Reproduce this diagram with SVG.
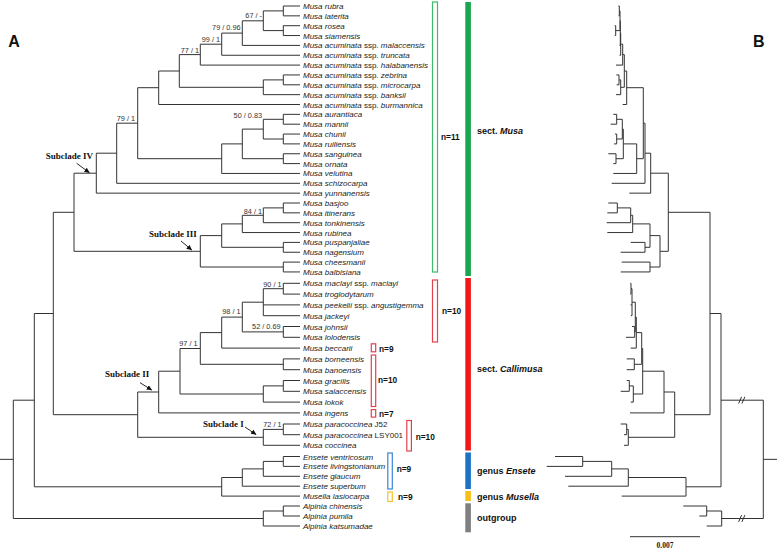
<svg xmlns="http://www.w3.org/2000/svg" width="777" height="552" viewBox="0 0 777 552">
<defs>
<style>
.br{fill:none;stroke:#333;stroke-width:1}
.tx{font-family:"Liberation Sans",Arial,sans-serif;font-size:8px;font-style:italic;fill:#222}
.up{font-style:normal}
.sv{font-family:"Liberation Sans",Arial,sans-serif;font-size:7.3px;fill:#333;text-anchor:end}
.sc{font-family:"Liberation Serif","Times New Roman",serif;font-size:9px;font-weight:bold;fill:#111}
.nn{font-family:"Liberation Sans",Arial,sans-serif;font-size:8.3px;font-weight:bold;fill:#111}
.sl{font-family:"Liberation Sans",Arial,sans-serif;font-size:9px;font-weight:bold;fill:#111}
.pl{font-family:"Liberation Sans",Arial,sans-serif;font-size:16px;font-weight:bold;fill:#111}
.arr{stroke:#111;stroke-width:0.9;fill:none}
</style>
<marker id="ah" markerUnits="userSpaceOnUse" markerWidth="6" markerHeight="6" refX="5" refY="3" orient="auto"><path d="M0,0.5 L5.5,3 L0,5.5 z" fill="#111"/></marker>
</defs>
<rect width="777" height="552" fill="#fff"/>

<g id="connectors">
<path class="br" d="M283.3 6V15.85M300 6H283.3M300 15.85H283.3M283.3 25.7V35.55M300 25.7H283.3M300 35.55H283.3M263.3 10.9V30.6M283.3 10.9H263.3M283.3 30.6H263.3M242.3 20.8V45.4M263.3 20.8H242.3M300 45.4H242.3M221.7 33.1V55.25M242.3 33.1H221.7M300 55.25H221.7M200.3 44.2V65.1M221.7 44.2H200.3M300 65.1H200.3M283.3 74.95V84.8M300 74.95H283.3M300 84.8H283.3M263.3 79.9V94.65M283.3 79.9H263.3M300 94.65H263.3M179.3 54.6V87.3M200.3 54.6H179.3M263.3 87.3H179.3M158.7 71V104.5M179.3 71H158.7M300 104.5H158.7M283.3 114.35V124.2M300 114.35H283.3M300 124.2H283.3M283.3 134.05V143.9M300 134.05H283.3M300 143.9H283.3M263.3 119.3V139M283.3 119.3H263.3M283.3 139H263.3M283.3 153.75V163.6M300 153.75H283.3M300 163.6H283.3M242.3 129.1V158.7M263.3 129.1H242.3M283.3 158.7H242.3M221.7 143.9V173.45M242.3 143.9H221.7M300 173.45H221.7M137.7 87.7V158.7M158.7 87.7H137.7M221.7 158.7H137.7M116.7 123.2V183.3M137.7 123.2H116.7M300 183.3H116.7M96.3 153.2V193.15M116.7 153.2H96.3M300 193.15H96.3M283.3 203V212.85M300 203H283.3M300 212.85H283.3M263.3 207.9V222.7M283.3 207.9H263.3M300 222.7H263.3M242.3 215.3V232.55M263.3 215.3H242.3M300 232.55H242.3M283.3 242.4V252.25M300 242.4H283.3M300 252.25H283.3M221.7 223.9V247.3M242.3 223.9H221.7M283.3 247.3H221.7M283.3 262.1V271.95M300 262.1H283.3M300 271.95H283.3M200.3 235.6V267M221.7 235.6H200.3M283.3 267H200.3M74 173.2V251.3M96.3 173.2H74M200.3 251.3H74"/>
<path class="br" d="M283.3 283.3V294.1M300 283.3H283.3M300 294.1H283.3M263.3 288.7V315.7M283.3 288.7H263.3M300 304.9H263.3M300 315.7H263.3M283.3 326.5V337.3M300 326.5H283.3M300 337.3H283.3M242.3 302.2V331.9M263.3 302.2H242.3M283.3 331.9H242.3M221.7 317.1V348.1M242.3 317.1H221.7M300 348.1H221.7M283.3 358.9V369.7M300 358.9H283.3M300 369.7H283.3M200.3 332.6V364.3M221.7 332.6H200.3M283.3 364.3H200.3M283.3 380.5V391.3M300 380.5H283.3M300 391.3H283.3M263.3 385.9V402.1M283.3 385.9H263.3M300 402.1H263.3M180 348.5V394M200.3 348.5H180M263.3 394H180M158.7 371.2V412.9M180 371.2H158.7M300 412.9H158.7M283.3 424V434.7M300 424H283.3M300 434.7H283.3M263.3 429.4V445.3M283.3 429.4H263.3M300 445.3H263.3M137.7 392V437.3M158.7 392H137.7M263.3 437.3H137.7M53.3 212.3V414.7M74 212.3H53.3M137.7 414.7H53.3M283.3 456.5V466.4M300 456.5H283.3M300 466.4H283.3M263.3 461.4V476.3M283.3 461.4H263.3M300 476.3H263.3M242.3 468.9V486.2M263.3 468.9H242.3M300 486.2H242.3M221.7 477.5V496.1M242.3 477.5H221.7M300 496.1H221.7M34.3 313.5V486.8M53.3 313.5H34.3M221.7 486.8H34.3M283.3 506V516M300 506H283.3M300 516H283.3M263.3 511V526M283.3 511H263.3M300 526H263.3M13.3 400.2V518.5M34.3 400.2H13.3M263.3 518.5H13.3M0 459.35H13.3"/>
<path class="br" d="M619.3 6V15.85M618.3 6H619.3M618.6 15.85H619.3M615.7 25.7V35.55M614.7 25.7H615.7M614.7 35.55H615.7M620 10.9V30.6M619.3 10.9H620M615.7 30.6H620M620.3 20.8V45.4M620 20.8H620.3M619.5 45.4H620.3M620.7 33.1V55.25M620.3 33.1H620.7M619.5 55.25H620.7M622.7 44.2V65.1M620.7 44.2H622.7M616 65.1H622.7M619 74.95V84.8M616.3 74.95H619M616.7 84.8H619M620.7 79.9V94.65M619 79.9H620.7M616 94.65H620.7M624.3 54.6V87.3M622.7 54.6H624.3M620.7 87.3H624.3M626.7 71V104.5M624.3 71H626.7M622.7 104.5H626.7M616.7 114.35V124.2M613.3 114.35H616.7M610.7 124.2H616.7M616.7 134.05V143.9M615 134.05H616.7M614 143.9H616.7M622.3 119.3V139M616.7 119.3H622.3M616.7 139H622.3M616 153.75V163.6M608.3 153.75H616M613.3 163.6H616M623.3 129.1V158.7M622.3 129.1H623.3M616 158.7H623.3M636.7 143.9V173.45M623.3 143.9H636.7M613.3 173.45H636.7M643.3 87.7V158.7M626.7 87.7H643.3M636.7 158.7H643.3M645 123.2V183.3M643.3 123.2H645M611.7 183.3H645M650.7 153.2V193.15M645 153.2H650.7M629.3 193.15H650.7M617.3 203V212.85M608.3 203H617.3M607.3 212.85H617.3M630.7 207.9V222.7M617.3 207.9H630.7M606.7 222.7H630.7M632.7 215.3V232.55M630.7 215.3H632.7M607.3 232.55H632.7M645 242.4V252.25M630.7 242.4H645M620.7 252.25H645M650 223.9V247.3M632.7 223.9H650M645 247.3H650M650 262.1V271.95M621.7 262.1H650M620.7 271.95H650M660 235.6V267M650 235.6H660M650 267H660M668.3 173.2V251.3M650.7 173.2H668.3M660 251.3H668.3"/>
<path class="br" d="M631 283.3V294.1M630.3 283.3H631M630.3 294.1H631M632 288.7V315.7M631 288.7H632M630.5 304.9H632M630.8 315.7H632M634.7 326.5V337.3M632 326.5H634.7M626 337.3H634.7M635.3 302.2V331.9M632 302.2H635.3M634.7 331.9H635.3M636.3 317.1V348.1M635.3 317.1H636.3M630.7 348.1H636.3M634.3 358.9V369.7M626.7 358.9H634.3M626.7 369.7H634.3M641.7 332.6V364.3M636.3 332.6H641.7M634.3 364.3H641.7M629.3 380.5V391.3M626.7 380.5H629.3M620.7 391.3H629.3M633.3 385.9V402.1M629.3 385.9H633.3M630.7 402.1H633.3M642.7 348.5V394M641.7 348.5H642.7M633.3 394H642.7M664 371.2V412.9M642.7 371.2H664M630 412.9H664M626.7 424V434.7M620.7 424H626.7M624 434.7H626.7M628.3 429.4V445.3M626.7 429.4H628.3M624 445.3H628.3M674.7 392V437.3M664 392H674.7M628.3 437.3H674.7M710 212.3V414.7M668.3 212.3H710M674.7 414.7H710M582.7 456.5V466.4M555 456.5H582.7M546.7 466.4H582.7M611.7 461.4V476.3M582.7 461.4H611.7M565 476.3H611.7M628.3 468.9V486.2M611.7 468.9H628.3M568.3 486.2H628.3M686 477.5V496.1M628.3 477.5H686M621.7 496.1H686M721 313.5V486.8M710 313.5H721M686 486.8H721M706.7 506V516M683.3 506H706.7M699.3 516H706.7M721.7 511V526M706.7 511H721.7M706.7 526H721.7M763.3 400.2V518.5M721 400.2H763.3M721.7 518.5H763.3M763.3 459.35H777"/>
<path class="br" d="M738.6 403.6L741.6 396.8M741.9 403.6L744.9 396.8M738.6 521.9L741.6 515.1M741.9 521.9L744.9 515.1"/>
</g>

<g id="panel-labels">
<text class="pl" x="8.3" y="47">A</text>
<text class="pl" x="753" y="47">B</text>
</g>

<g id="taxa">
<g id="t01"><text class="tx" x="303" y="9">Musa rubra</text></g>
<g id="t02"><text class="tx" x="303" y="18.85">Musa laterita</text></g>
<g id="t03"><text class="tx" x="303" y="28.7">Musa rosea</text></g>
<g id="t04"><text class="tx" x="303" y="38.55">Musa siamensis</text></g>
<g id="t05"><text class="tx" x="303" y="48.4">Musa acuminata <tspan class="up">ssp.</tspan> malaccensis</text></g>
<g id="t06"><text class="tx" x="303" y="58.25">Musa acuminata <tspan class="up">ssp.</tspan> truncata</text></g>
<g id="t07"><text class="tx" x="303" y="68.1">Musa acuminata <tspan class="up">ssp.</tspan> halabanensis</text></g>
<g id="t08"><text class="tx" x="303" y="77.95">Musa acuminata <tspan class="up">ssp.</tspan> zebrina</text></g>
<g id="t09"><text class="tx" x="303" y="87.8">Musa acuminata <tspan class="up">ssp.</tspan> microcarpa</text></g>
<g id="t10"><text class="tx" x="303" y="97.65">Musa acuminata <tspan class="up">ssp.</tspan> banksii</text></g>
<g id="t11"><text class="tx" x="303" y="107.5">Musa acuminata <tspan class="up">ssp.</tspan> burmannica</text></g>
<g id="t12"><text class="tx" x="303" y="117.35">Musa aurantiaca</text></g>
<g id="t13"><text class="tx" x="303" y="127.2">Musa mannii</text></g>
<g id="t14"><text class="tx" x="303" y="137.05">Musa chunii</text></g>
<g id="t15"><text class="tx" x="303" y="146.9">Musa ruiliensis</text></g>
<g id="t16"><text class="tx" x="303" y="156.75">Musa sanguinea</text></g>
<g id="t17"><text class="tx" x="303" y="166.6">Musa ornata</text></g>
<g id="t18"><text class="tx" x="303" y="176.45">Musa velutina</text></g>
<g id="t19"><text class="tx" x="303" y="186.3">Musa schizocarpa</text></g>
<g id="t20"><text class="tx" x="303" y="196.15">Musa yunnanensis</text></g>
<g id="t21"><text class="tx" x="303" y="206">Musa basjoo</text></g>
<g id="t22"><text class="tx" x="303" y="215.85">Musa itinerans</text></g>
<g id="t23"><text class="tx" x="303" y="225.7">Musa tonkinensis</text></g>
<g id="t24"><text class="tx" x="303" y="235.55">Musa rubinea</text></g>
<g id="t25"><text class="tx" x="303" y="245.4">Musa puspanjaliae</text></g>
<g id="t26"><text class="tx" x="303" y="255.25">Musa nagensium</text></g>
<g id="t27"><text class="tx" x="303" y="265.1">Musa cheesmanii</text></g>
<g id="t28"><text class="tx" x="303" y="274.95">Musa balbisiana</text></g>
<g id="t29"><text class="tx" x="303" y="286.3">Musa maclayi <tspan class="up">ssp.</tspan> maclayi</text></g>
<g id="t30"><text class="tx" x="303" y="297.1">Musa troglodytarum</text></g>
<g id="t31"><text class="tx" x="303" y="307.9">Musa peekelii <tspan class="up">ssp.</tspan> angustigemma</text></g>
<g id="t32"><text class="tx" x="303" y="318.7">Musa jackeyi</text></g>
<g id="t33"><text class="tx" x="303" y="329.5">Musa johnsii</text></g>
<g id="t34"><text class="tx" x="303" y="340.3">Musa lolodensis</text></g>
<g id="t35"><text class="tx" x="303" y="351.1">Musa beccarii</text></g>
<g id="t36"><text class="tx" x="303" y="361.9">Musa borneensis</text></g>
<g id="t37"><text class="tx" x="303" y="372.7">Musa banoensis</text></g>
<g id="t38"><text class="tx" x="303" y="383.5">Musa gracilis</text></g>
<g id="t39"><text class="tx" x="303" y="394.3">Musa salaccensis</text></g>
<g id="t40"><text class="tx" x="303" y="405.1">Musa lokok</text></g>
<g id="t41"><text class="tx" x="303" y="415.9">Musa ingens</text></g>
<g id="t42"><text class="tx" x="303" y="427">Musa paracoccinea <tspan class="up"> J52</tspan></text></g>
<g id="t43"><text class="tx" x="303" y="437.7">Musa paracoccinea <tspan class="up">LSY001</tspan></text></g>
<g id="t44"><text class="tx" x="303" y="448.3">Musa coccinea</text></g>
<g id="t45"><text class="tx" x="303" y="459.5">Ensete ventricosum</text></g>
<g id="t46"><text class="tx" x="303" y="469.4">Ensete livingstonianum</text></g>
<g id="t47"><text class="tx" x="303" y="479.3">Ensete glaucum</text></g>
<g id="t48"><text class="tx" x="303" y="489.2">Ensete superbum</text></g>
<g id="t49"><text class="tx" x="303" y="499.1">Musella lasiocarpa</text></g>
<g id="t50"><text class="tx" x="303" y="509">Alpinia chinensis</text></g>
<g id="t51"><text class="tx" x="303" y="519">Alpinia pumila</text></g>
<g id="t52"><text class="tx" x="303" y="529">Alpinia katsumadae</text></g>
</g>

<g id="support">
<text class="sv" x="262" y="18.2">67 / -</text>
<text class="sv" x="240.5" y="30.4">79 / 0.96</text>
<text class="sv" x="220" y="42.2">99 / 1</text>
<text class="sv" x="199" y="52.8">77 / 1</text>
<text class="sv" x="135" y="121">79 / 1</text>
<text class="sv" x="262" y="117.6">50 / 0.83</text>
<text class="sv" x="262" y="213.6">84 / 1</text>
<text class="sv" x="281.5" y="286.5">90 / 1</text>
<text class="sv" x="240.5" y="314.4">98 / 1</text>
<text class="sv" x="280.5" y="329">52 / 0.69</text>
<text class="sv" x="197.5" y="346">97 / 1</text>
<text class="sv" x="281.5" y="427">72 / 1</text>
</g>

<g id="subclades">
<g id="sub4"><text class="sc" x="45.7" y="159">Subclade IV</text><line class="arr" x1="76.7" y1="163.3" x2="89.3" y2="172.7" marker-end="url(#ah)"/></g>
<g id="sub3"><text class="sc" x="149" y="237">Subclade III</text><line class="arr" x1="181" y1="241" x2="191.7" y2="250" marker-end="url(#ah)"/></g>
<g id="sub2"><text class="sc" x="105" y="377.3">Subclade II</text><line class="arr" x1="140" y1="382.7" x2="151.7" y2="390" marker-end="url(#ah)"/></g>
<g id="sub1"><text class="sc" x="203" y="427">Subclade I</text><line class="arr" x1="245" y1="427" x2="256" y2="434.5" marker-end="url(#ah)"/></g>
</g>

<g id="brackets">
<g id="b-musa"><rect x="432.5" y="2" width="5" height="270" fill="none" stroke="#3dba6a" stroke-width="1.2"/><text class="nn" x="441" y="139.7">n=11</text></g>
<g id="b-cal1"><rect x="432.5" y="280" width="5" height="62" fill="none" stroke="#e2434a" stroke-width="1.2"/><text class="nn" x="442" y="313.7">n=10</text></g>
<g id="b-becc"><rect x="371.3" y="343.8" width="4.4" height="8" fill="none" stroke="#e2434a" stroke-width="1.2"/><text class="nn" x="379" y="352">n=9</text></g>
<g id="b-born"><rect x="371.3" y="355" width="4.4" height="51.5" fill="none" stroke="#e2434a" stroke-width="1.2"/><text class="nn" x="378" y="383">n=10</text></g>
<g id="b-ing"><rect x="371.3" y="409.6" width="4.4" height="7.5" fill="none" stroke="#e2434a" stroke-width="1.2"/><text class="nn" x="379" y="417.3">n=7</text></g>
<g id="b-para"><rect x="406.8" y="420.5" width="4.6" height="30.5" fill="none" stroke="#e2434a" stroke-width="1.2"/><text class="nn" x="415.7" y="439.7">n=10</text></g>
<g id="b-ens"><rect x="387.8" y="453" width="4.5" height="36" fill="none" stroke="#3b84d4" stroke-width="1.2"/><text class="nn" x="396.7" y="472.3">n=9</text></g>
<g id="b-mus"><rect x="387.8" y="492" width="4.5" height="9.5" fill="none" stroke="#f2c230" stroke-width="1.2"/><text class="nn" x="398" y="499.7">n=9</text></g>
</g>

<g id="sections">
<g id="s-musa"><rect x="465.3" y="2" width="5.6" height="274" fill="#1aa64e"/><text class="sl" x="477" y="134">sect. <tspan font-style="italic">Musa</tspan></text></g>
<g id="s-cal"><rect x="465.3" y="278" width="5.6" height="172.5" fill="#f01818"/><text class="sl" x="477" y="372">sect. <tspan font-style="italic">Callimusa</tspan></text></g>
<g id="s-ens"><rect x="465.3" y="452.5" width="5.6" height="36.5" fill="#1c72c4"/><text class="sl" x="477" y="474">genus  <tspan font-style="italic">Ensete</tspan></text></g>
<g id="s-mus"><rect x="465.3" y="491" width="5.6" height="10" fill="#f6c019"/><text class="sl" x="477" y="499.5">genus  <tspan font-style="italic">Musella</tspan></text></g>
<g id="s-out"><rect x="465.3" y="503.3" width="5.6" height="29" fill="#7f7f7f"/><text class="sl" x="477" y="520.5">outgroup</text></g>
</g>

<g id="scalebar">
<line x1="630" y1="536.7" x2="700" y2="536.7" stroke="#333" stroke-width="1"/>
<text x="665" y="548" text-anchor="middle" font-family="Liberation Serif, 'Times New Roman', serif" font-size="7.5" font-weight="bold" fill="#222">0.007</text>
</g>
</svg>
